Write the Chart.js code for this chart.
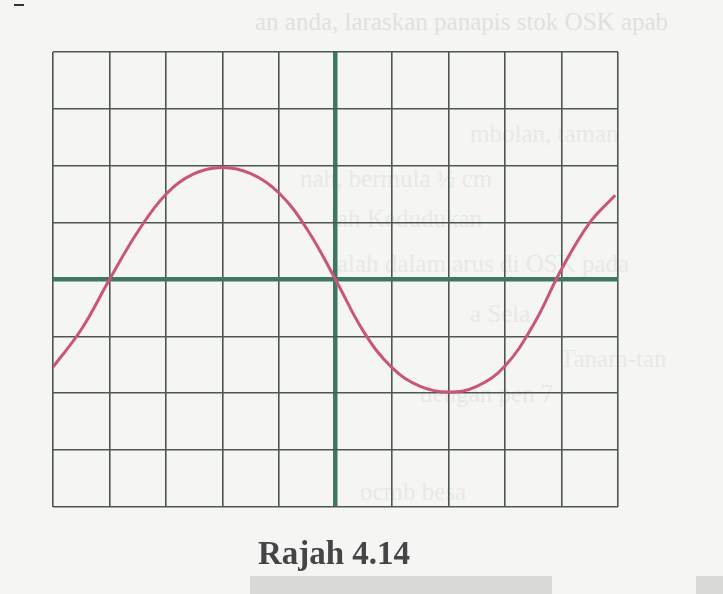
<!DOCTYPE html>
<html>
<head>
<meta charset="utf-8">
<script src="https://cdn.jsdelivr.net/npm/chart.js@4.4.1/dist/chart.umd.min.js"></script>
<style>
    body { margin: 0; background: #f5f6f3; }
    #wrap { position: relative; width: 723px; height: 594px; overflow: hidden; background: #f5f6f3; }
    #chart { position: absolute; left: 0; top: 0; }
    .ghost { position: absolute; font-family: "Liberation Serif", serif; font-size: 25px; color: #e8e9e7; white-space: nowrap; }
    #caption { position: absolute; left: 0; width: 668px; top: 535px; text-align: center;
               font-family: "Liberation Serif", serif; font-weight: bold; font-size: 33px; color: #454545; }
    .patch { position: absolute; background: #d9d9d7; }
</style>
</head>
<body>
<div id="wrap">
    <div class="ghost" style="left:255px;top:8px;color:#e0e1df;">an anda, laraskan panapis stok OSK apab</div>
    <div class="ghost" style="left:470px;top:120px;">mbolan, taman</div>
    <div class="ghost" style="left:300px;top:165px;">nah, bermula ½ cm</div>
    <div class="ghost" style="left:330px;top:205px;">lah Kedudukan</div>
    <div class="ghost" style="left:330px;top:250px;">ialah dalam arus di OSK pada</div>
    <div class="ghost" style="left:470px;top:300px;">a Sela</div>
    <div class="ghost" style="left:560px;top:345px;">Tanam-tan</div>
    <div class="ghost" style="left:420px;top:380px;">dengan pen 7</div>
    <div class="ghost" style="left:360px;top:478px;">ocmb besa</div>
    <div style="position:absolute;left:14px;top:4px;width:10px;height:2px;background:#333;"></div>
    <canvas id="chart" width="723" height="594"></canvas>
    <div id="caption">Rajah 4.14</div>
    <div class="patch" style="left:250px;top:576px;width:302px;height:18px;"></div>
    <div class="patch" style="left:696px;top:576px;width:27px;height:18px;"></div>
</div>
<script>
// trace, in divisions (x: 0..10, y: -4..4)
const divX = [0, 0.5, 1, 1.5, 2, 2.5, 3, 3.5, 4, 4.5, 5, 5.5, 6, 6.5, 7, 7.5, 8, 8.5, 9, 9.5, 9.95];
const divY = [-1.54, -0.88, 0, 0.84, 1.5, 1.86, 1.97, 1.86, 1.52, 0.88, 0, -0.92, -1.55, -1.88, -1.98, -1.88, -1.52, -0.8, 0.18, 1.0, 1.48];

const xTicks = [0, 1, 2, 3, 4, 5, 6, 7, 8, 9, 10];
const yTicks = [-4, -3, -2, -1, 0, 1, 2, 3, 4];

const points = divX.map((x, i) => ({ x: x, y: divY[i] }));

const gridColor = "#4c5750";
const axisColor = "#3f7763";

function gridStyle(centre) {
    return {
        drawTicks: false,
        color: ctx => ctx.tick && ctx.tick.value === centre ? axisColor : gridColor,
        lineWidth: ctx => ctx.tick && ctx.tick.value === centre ? 4.5 : 1.6
    };
}

new Chart(document.getElementById("chart").getContext("2d"), {
    type: "scatter",
    data: {
        datasets: [{
            data: points,
            showLine: true,
            borderColor: "#c9547c",
            borderWidth: 3,
            pointRadius: 0,
            tension: 0.4
        }]
    },
    options: {
        responsive: false,
        animation: false,
        layout: { padding: { left: 53, right: 105, top: 52, bottom: 87 } },
        plugins: { legend: { display: false }, tooltip: { enabled: false } },
        scales: {
            x: {
                type: "linear",
                min: xTicks[0],
                max: xTicks[xTicks.length - 1],
                afterBuildTicks: axis => { axis.ticks = xTicks.map(v => ({ value: v })); },
                ticks: { display: false },
                grid: gridStyle(5),
                border: { display: false }
            },
            y: {
                min: yTicks[0],
                max: yTicks[yTicks.length - 1],
                afterBuildTicks: axis => { axis.ticks = yTicks.map(v => ({ value: v })); },
                ticks: { display: false },
                grid: gridStyle(0),
                border: { display: false }
            }
        }
    }
});
</script>
</body>
</html>
